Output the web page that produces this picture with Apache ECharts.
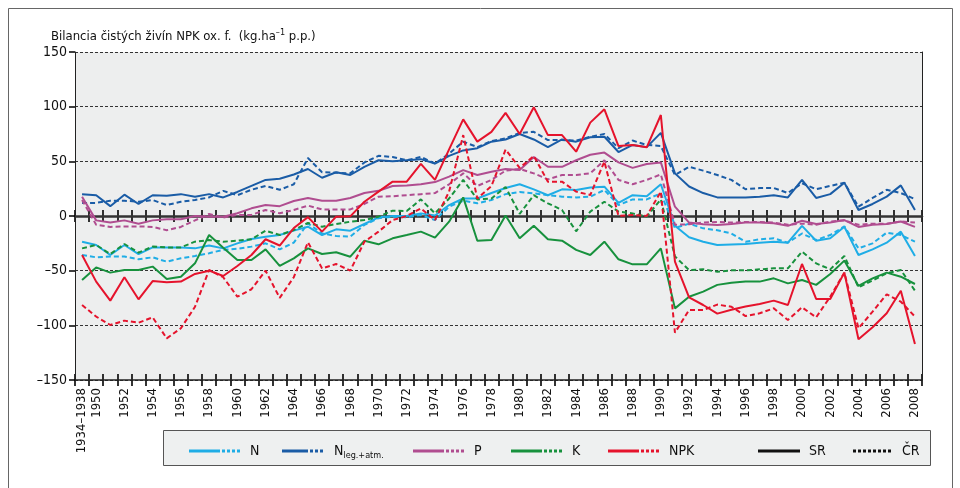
<!DOCTYPE html>
<html>
<head>
<meta charset="utf-8">
<script src="https://cdn.jsdelivr.net/npm/echarts@6/dist/echarts.min.js"></script>
<style>
  html, body { margin: 0; padding: 0; background: #fff; }
  #chart { width: 960px; height: 488px; }
</style>
</head>
<body>
<div id="chart"></div>
<script>
var years = ['1934–1938', '1950', '1951', '1952', '1953', '1954', '1955', '1956', '1957', '1958', '1959',
    '1960', '1961', '1962', '1963', '1964', '1965', '1966', '1967', '1968', '1969',
    '1970', '1971', '1972', '1973', '1974', '1975', '1976', '1977', '1978', '1979',
    '1980', '1981', '1982', '1983', '1984', '1985', '1986', '1987', '1988', '1989',
    '1990', '1991', '1992', '1993', '1994', '1995', '1996', '1997', '1998', '1999',
    '2000', '2001', '2002', '2003', '2004', '2005', '2006', '2007', '2008'];

// SR = solid, CR = dashed
var nSR = [-23.5, -26.5, -35.7, -26.5, -34.8, -28.7, -28.7, -28.7, -29.6, -27, -29.6, -25, -21, -19, -17.4, -13.4, -9.8, -17.4, -12.2, -13.4,
    -7.3, -1.2, 0, 0, 2.4, 0.5, 10, 16, 16, 21, 25.6, 29, 24.4, 19, 24.4, 23.8, 26, 26.8, 12, 19,
    18, 29, -9, -19.5, -23.5, -26.5, -26, -25.5, -24.5, -23.5, -24.4, -9, -22.6, -20.4, -9.8, -35.7, -30.5, -24.4, -14.3, -36.6];
var nCR = [-35.7, -37.8, -37, -37, -39.6, -37.8, -41.8, -38.7, -36.6, -34, -31, -30, -28, -25, -30.5, -24.4, -6.7, -15.9, -18.3, -18.9,
    -8.2, -2, -0.6, -1.2, 1, -3.7, 8.5, 14, 11.6, 14.6, 20, 22, 20.7, 19, 17.7, 17, 17.7, 23.8, 10, 15.2,
    15.2, 20.7, -11, -7, -11.3, -13, -16, -23.5, -21.3, -20.4, -24.4, -16, -22, -17.4, -9.5, -29.6, -25, -15.2, -17.4, -23.5];
var nlegSR = [20, 19, 9, 19.5, 11, 19, 18.5, 20, 17.7, 20, 17, 22, 27.5, 33, 34, 38, 43, 35, 40, 37.5,
    45, 51, 50, 51, 52, 48, 55, 60, 62, 68, 70, 75, 70, 63, 70, 68, 72, 72.5, 58.5, 65,
    63, 76, 39, 27, 21, 17, 17, 17, 17.5, 19, 17, 33, 16.5, 20, 30.5, 5.5, 11, 17.7, 28, 5.5];
var nlegCR = [12, 12, 14, 14, 13, 14.6, 10, 13, 14.6, 17, 23, 19, 24, 27.5, 24, 29, 53, 40, 39.6, 39,
    49, 55, 54, 51, 54, 48, 57, 68, 63, 68.6, 71, 76, 77, 69.5, 69.5, 69, 72.5, 75, 62, 69,
    65, 64, 37.5, 45, 41.5, 37.5, 33, 24.5, 25.6, 25.6, 21, 30, 24.5, 27.5, 30.5, 8.5, 16.5, 24, 21, 15.5];
var pSR = [17.7, -4, -6, -4, -7, -4, -3, -3, 0, -0.6, -0.6, 2.5, 7, 10, 9, 13.7, 16.5, 14, 14, 16.5,
    21, 23, 27.5, 28, 29, 31, 36, 42, 37.5, 40.5, 43, 42, 54, 45, 45, 51, 56, 58, 49, 44,
    47.5, 49, 8.5, -6, -7.6, -8.2, -7.3, -6, -6, -6.7, -9, -4.3, -7.3, -6, -3.7, -10, -8, -7.3, -5, -10];
var pCR = [14.6, -8, -10, -9.5, -9.5, -10, -13, -10, -4, 1.8, -1.5, 1, 1, 5.5, 2.5, 5.5, 9.5, 6, 6, 6,
    11, 17.7, 18, 19, 20, 21, 29, 39, 27.5, 33, 41.5, 43, 39, 33.5, 37.5, 37.5, 39, 51, 33, 29,
    33, 38, -8, -7.6, -6, -5.5, -6, -5.5, -5.5, -6, -8, -7, -8, -5, -4, -8, -7, -7, -5, -6];
var kSR = [-58.5, -47, -51.8, -49.4, -49.4, -46.3, -57.6, -55.5, -43.3, -17.4, -29, -40.2, -40.2, -30.5, -45.7, -38.7, -29.6, -34.8, -33.2, -37.2,
    -22.6, -25.9, -20.4, -17.4, -14.3, -19.8, -5.2, 17, -22.6, -22, 0.5, -20.4, -9, -21.3, -22.6, -31, -35.7, -23.5, -39.6, -44.2,
    -44.2, -29.6, -84.5, -73.8, -69.2, -63, -61, -60, -60, -57, -61.6, -58.5, -63, -53, -40.8, -64, -57, -51.8, -55.5, -62.2];
var kCR = [-29.6, -26.5, -34.8, -25.6, -33.5, -28, -28.7, -28.7, -23.5, -22, -23.5, -22.6, -21.3, -13.4, -17.4, -12.8, -6.4, -9.8, -7.3, -5.2,
    -3.7, -0.6, 4.9, 4.5, 15.2, 2.4, 16, 33, 15.2, 16, 26.5, 2, 19, 11.6, 5.5, -14, 4, 13, 4, 2.4,
    -0.6, 15.2, -37, -49.4, -48.8, -51, -49.7, -49.7, -48.8, -47.9, -47.9, -32.6, -43.3, -48.8, -36.6, -65.2, -59, -52.4, -49.4, -68.3];
var npkSR = [-35.7, -60, -77.4, -56, -76.2, -59.5, -60.7, -60, -53, -50, -54.9, -45.7, -35.7, -21.3, -27, -11, -1, -14.3, -0.6, -0.3,
    13, 22.3, 31.4, 31.4, 47.6, 33, 61, 88.4, 68, 77, 94.3, 75, 99.4, 74, 74, 58.8, 85.4, 97.6, 64, 65,
    62.8, 92.4, -41.8, -74.4, -81.4, -89.3, -85.7, -82.7, -80.5, -77.4, -81.4, -43.9, -75.9, -75.9, -51.8, -112.8, -101.8, -89, -68.3, -117];
var npkCR = [-81.4, -92, -99.7, -95.7, -97.6, -92.7, -111.9, -102.7, -83, -49.4, -56, -73.8, -67, -50, -74.9, -56, -24, -47.9, -43.9, -50,
    -23.5, -14.3, -3.7, 0, 7, -3.7, 22.3, 74, 16, 27.4, 60.7, 44, 54.9, 31.4, 31.4, 22.3, 19.2, 49.7, 0, 1,
    0, 22.3, -106.7, -86, -86, -81, -83, -91.5, -89, -84.4, -95.1, -83.5, -92.7, -73.8, -51.8, -102.7, -87.5, -71.6, -78.4, -92];

var FONT = "'Liberation Sans Narrow', 'DejaVu Sans Condensed', sans-serif";
var cN = '#1fade6', cNleg = '#1a5ca6', cP = '#b04d90', cK = '#17913d', cNPK = '#e5132c';

// legend sample: solid piece followed by dots
function mixIcon(w) {
    var solid = Math.round(w * 0.58);
    var p = 'path://M0,0H' + solid + 'V3H0Z';
    for (var x = solid + 2; x + 3 <= w; x += 5) {
        p += 'M' + x + ',0H' + (x + 3) + 'V3H' + x + 'Z';
    }
    return p;
}
function dotIcon(w) {
    var p = 'path://';
    for (var x = 0; x + 3 <= w; x += 5) {
        p += 'M' + x + ',0H' + (x + 3) + 'V3H' + x + 'Z';
    }
    return p;
}

function line(name, data, color, dashed) {
    return {
        name: name,
        type: 'line',
        data: data,
        symbol: 'none',
        itemStyle: { color: color },
        lineStyle: { color: color, width: 2, type: dashed ? [5, 3] : 'solid' },
        emphasis: { disabled: true }
    };
}

function legendItem(name, icon, w, left, formatter) {
    var l = {
        data: [{ name: name, icon: icon }],
        left: left,
        top: 439,
        itemWidth: w,
        itemHeight: 3,
        itemGap: 0,
        selectedMode: false,
        itemStyle: { borderWidth: 0 },
        textStyle: {
            fontFamily: FONT, fontSize: 14, color: '#111', padding: [0, 0, 0, 4],
            rich: {
                m: { fontFamily: FONT, fontSize: 14, color: '#111', lineHeight: 18 },
                s: { fontFamily: FONT, fontSize: 9, color: '#111', lineHeight: 18, verticalAlign: 'bottom' }
            }
        }
    };
    if (formatter) l.formatter = formatter;
    return l;
}

// thin strip grids; a value axis 0..60 with step 1 puts a split line on every
// category boundary, which draws the ticks crossing the 0 and -150 lines
var tickStrips = [210, 374];

var chart = echarts.init(document.getElementById('chart'), null, { renderer: 'canvas' });

var grids = [{
    left: 75, right: 38, top: 52, bottom: 108,
    show: true, backgroundColor: '#edeeee', borderWidth: 0
}];
var xAxes = [
    {
        type: 'category', data: years, gridIndex: 0, position: 'bottom', boundaryGap: true,
        axisLine: { onZero: false, lineStyle: { color: '#222', width: 1.5 } },
        axisTick: { show: false },
        axisLabel: {
            interval: function (i) { return i === 0 || i % 2 === 1; },
            rotate: 90, margin: 8, fontFamily: FONT, fontSize: 13, color: '#111'
        },
        splitLine: { show: false }
    },
    {
        type: 'category', data: years, gridIndex: 0, position: 'bottom', boundaryGap: true,
        axisLine: { onZero: true, onZeroAxisIndex: 0, lineStyle: { color: '#333', width: 2.5 } },
        axisTick: { show: false },
        axisLabel: { show: false },
        splitLine: { show: false }
    }
];
var yAxes = [
    {
        type: 'value', min: -150, max: 150, interval: 50, gridIndex: 0, position: 'left',
        axisLine: { show: true, onZero: false, lineStyle: { color: '#222' } },
        axisTick: { show: true, length: 6, lineStyle: { color: '#000', width: 1.5 } },
        axisLabel: {
            margin: 8, fontFamily: FONT, fontSize: 14, color: '#111',
            formatter: function (v) { return v < 0 ? '\u2013' + Math.abs(v) : String(v); }
        },
        splitLine: { show: true, lineStyle: { color: '#333', width: 1, type: [3, 2] } }
    },
    {
        type: 'value', min: -150, max: 150, interval: 50, gridIndex: 0, position: 'right',
        axisLine: { show: true, onZero: false, lineStyle: { color: '#222' } },
        axisTick: { show: false },
        axisLabel: { show: false },
        splitLine: { show: false }
    }
];
var extraSeries = [];
tickStrips.forEach(function (top, i) {
    var g = i + 1;
    grids.push({ left: 75, right: 38, top: top, height: 12, show: false });
    xAxes.push({
        type: 'value', gridIndex: g, min: 0, max: years.length, interval: 1,
        axisLine: { show: false }, axisTick: { show: false }, axisLabel: { show: false },
        splitLine: { show: true, lineStyle: { color: '#000', width: 1.6 } }
    });
    yAxes.push({
        type: 'value', gridIndex: g, min: 0, max: 1, interval: 1,
        axisLine: { show: false }, axisTick: { show: false }, axisLabel: { show: false },
        splitLine: { show: false }
    });
    extraSeries.push({ type: 'line', xAxisIndex: xAxes.length - 1, yAxisIndex: yAxes.length - 1, data: [], silent: true });
});

var option = {
    backgroundColor: '#fff',
    animation: false,
    title: {
        text: 'Bilancia čistých živín NPK ox. f.  (kg.ha{sup|–1} p.p.)',
        left: 46,
        top: 23,
        textStyle: {
            fontFamily: FONT, fontSize: 13, fontWeight: 'normal', color: '#111',
            rich: {
                sup: { fontFamily: FONT, fontSize: 9, color: '#111', lineHeight: 17, verticalAlign: 'top' }
            }
        }
    },
    graphic: [
        { type: 'rect', shape: { x: 8.5, y: 8.5, width: 944, height: 500 }, style: { fill: 'none', stroke: '#666', lineWidth: 1 }, silent: true },
        { type: 'rect', shape: { x: 163.5, y: 430.5, width: 767, height: 35 }, style: { fill: '#eef0f0', stroke: '#555', lineWidth: 1 }, silent: true, z: -1 }
    ],
    legend: [
        legendItem('N', mixIcon(53), 53, 184),
        legendItem('Nleg', mixIcon(45), 45, 277, '{m|N}{s|leg.+atm.}'),
        legendItem('P', mixIcon(53), 53, 408),
        legendItem('K', mixIcon(53), 53, 506),
        legendItem('NPK', mixIcon(53), 53, 603),
        legendItem('SR', 'path://M0,0H42V3H0Z', 42, 753),
        legendItem('ČR', dotIcon(42), 42, 848)
    ],
    grid: grids,
    xAxis: xAxes,
    yAxis: yAxes,
    series: [
        line('N ČR', nCR, cN, true),
        line('N', nSR, cN, false),
        line('Nleg ČR', nlegCR, cNleg, true),
        line('Nleg', nlegSR, cNleg, false),
        line('P ČR', pCR, cP, true),
        line('P', pSR, cP, false),
        line('K ČR', kCR, cK, true),
        line('K', kSR, cK, false),
        line('NPK ČR', npkCR, cNPK, true),
        line('NPK', npkSR, cNPK, false),
        line('SR', [], '#111', false),
        line('ČR', [], '#111', true)
    ].concat(extraSeries)
};

chart.setOption(option);
</script>
</body>
</html>
